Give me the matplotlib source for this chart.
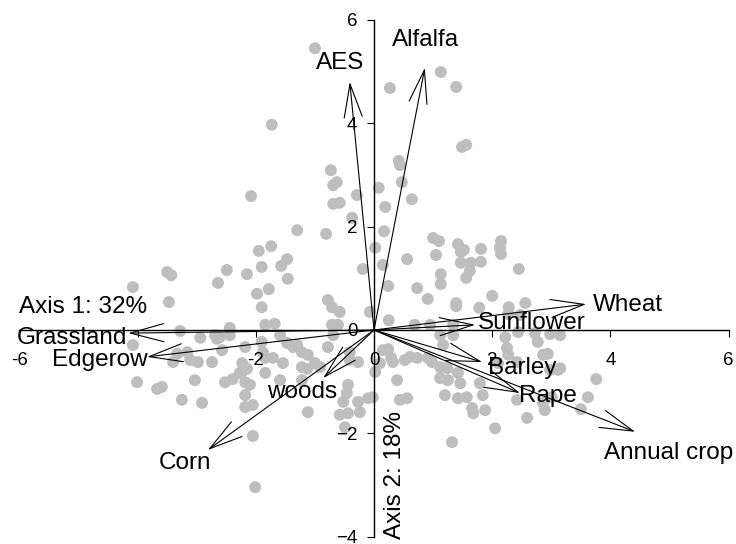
import matplotlib
matplotlib.use('Agg')
from matplotlib import pyplot as plt
import numpy as np

plt.rcParams['font.family'] = ['Liberation Sans', 'DejaVu Sans']

# site scores on the first two axes
site_x = [-1.00, -1.73, -0.73, -0.63, -0.69, -0.29, -2.08, -0.69, -0.58, -0.37,
          -1.30, -0.81, -1.74, -1.95, -1.47, -1.57, -1.90, -2.49, -2.15, -3.50,
          -3.43, -0.19, 0.27, 1.13, 1.39, 1.56, 1.49, 0.42, 0.44, 0.47,
          0.08, 0.64, 0.19, 0.17, 1.00, 1.10, 1.42, 2.15, 1.81, 1.05,
          1.47, 2.13, 2.15, 0.56, 0.02, 1.81, 1.47, 1.64, 2.45, 0.15,
          1.52, 1.13, 1.62, 1.56, 1.13, 0.24, 0.73, 0.91, 2.00, 1.39,
          1.39, 1.78, 2.28, 2.56, 0.25, 2.47, 2.27, 3.76, 3.62, 3.50,
          2.94, 2.98, 3.11, 2.98, 3.15, 2.44, 2.72, 2.22, -2.64, -4.08,
          -1.46, -1.78, -1.98, -1.90, -3.47, -0.78, -0.71, -0.58, -0.07, -1.84,
          -1.68, -0.71, -0.61, -2.44, -3.28, -2.61, -2.44, -1.90, -1.47, -1.30,
          -1.22, -0.78, -4.08, -3.40, -3.11, -2.98, -2.74, -2.57, -2.23, -1.84,
          -1.71, -1.54, -1.22, -1.00, -1.84, -2.27, -2.18, -2.10, -2.52, -3.03,
          -4.01, -3.67, -3.59, -3.25, -2.91, -2.18, -1.59, -1.22, -0.41, -0.27,
          -0.44, -0.46, -0.52, -1.12, -0.58, -0.44, -0.24, -0.10, -0.49, -2.05,
          -2.01, -3.33, -3.16, -2.39, -2.23, -2.15, -2.66, -2.18, -1.88, -1.59,
          -1.37, -1.12, -0.69, -0.41, -1.13, -0.91, -0.27, -2.05, -2.18, -2.94,
          -2.69, 0.15, 0.10, 0.32, 0.52, 0.61, 0.73, 0.39, -0.02, 0.44,
          0.56, 0.91, 0.98, 1.12, 1.24, 1.12, 1.25, 1.42, 1.46, 1.20,
          1.42, 1.57, 1.79, 1.66, 1.68, 1.88, 1.84, 2.05, 1.32, 2.59,
          2.89, 2.86, 3.01, 2.42, 2.25, 2.27, 2.10, 2.42, 2.86, 3.15,
          2.77, 1.34, 1.12, 1.17, 0.69, 0.95, 1.34, 0.24, 0.29, 0.02]
site_y = [5.45, 3.97, 3.09, 2.86, 2.80, 2.61, 2.59, 2.44, 2.46, 2.17,
          1.93, 1.86, 1.62, 1.53, 1.37, 1.24, 1.22, 1.16, 1.08, 1.12,
          1.06, 1.18, 4.68, 4.99, 4.70, 3.58, 3.54, 3.27, 3.19, 2.86,
          2.75, 2.53, 2.38, 1.91, 1.78, 1.72, 1.66, 1.72, 1.57, 1.45,
          1.51, 1.59, 1.47, 1.37, 1.59, 1.32, 1.30, 1.30, 1.18, 1.26,
          1.55, 1.08, 1.14, 1.01, 0.89, 0.85, 0.81, 0.60, 0.66, 0.52,
          0.46, 0.43, 0.44, 0.52, 0.19, 0.29, 0.31, -0.95, -1.30, -1.53,
          -0.46, -0.77, -0.77, -0.08, -0.10, -0.04, -0.06, -0.14, 0.91, 0.83,
          0.99, 0.79, 0.70, 0.44, 0.54, 0.58, 0.44, 0.35, 0.35, 0.10,
          0.12, 0.10, 0.10, 0.04, -0.02, -0.14, -0.10, -0.23, -0.25, -0.29,
          -0.43, -0.33, -0.29, -0.62, -0.58, -0.62, -0.62, -0.39, -0.64, -0.54,
          -0.54, -0.64, -0.72, -0.64, -0.83, -0.83, -1.01, -1.06, -1.01, -0.97,
          -1.01, -1.14, -1.10, -1.35, -1.41, -1.49, -0.97, -0.97, -0.58, -0.62,
          -1.06, -1.22, -1.39, -1.59, -1.64, -1.61, -1.59, -1.32, -1.88, -2.05,
          -3.04, -0.46, -0.43, -0.95, -0.81, -0.75, -0.17, -0.33, -0.43, -0.10,
          -0.33, -0.48, -0.10, -0.43, -0.75, -0.72, -1.39, -1.45, -1.26, -0.15,
          -0.10, -0.39, -0.64, -0.62, -0.58, -0.52, -0.54, -0.97, -1.30, -1.35,
          -1.32, -0.54, -0.62, -0.72, -0.74, -0.93, -0.97, -0.83, -1.03, -1.26,
          -1.32, -1.30, -1.03, -1.51, -1.61, -1.55, -1.26, -1.90, -2.17, -1.70,
          -1.55, -1.41, -1.30, -1.35, -0.35, -0.48, -0.64, -0.62, -0.48, -0.74,
          -0.23, -0.10, -0.10, -0.29, 0.10, 0.10, 0.10, -0.37, -0.54, -0.81]

# variable vectors
var_names = ['AES', 'Alfalfa', 'Wheat', 'Sunflower', 'Barley', 'Rape',
             'Annual crop', 'Corn', 'woods', 'Grassland', 'Edgerow']
var_x = [-0.41, 0.86, 3.59, 1.71, 1.83, 2.47, 4.42, -2.81, -0.86, -4.16, -3.84]
var_y = [4.80, 5.07, 0.50, 0.10, -0.62, -1.22, -1.97, -2.32, -0.93, -0.06, -0.52]

# where each name is written
label_pos = {'AES': (-0.58, 5.16), 'Alfalfa': (0.88, 5.61), 'Wheat': (4.30, 0.48),
             'Sunflower': (2.67, 0.14), 'Barley': (2.50, -0.73), 'Rape': (2.95, -1.28),
             'Annual crop': (4.98, -2.38), 'Corn': (-3.20, -2.57), 'woods': (-1.22, -1.20),
             'Grassland': (-5.11, -0.15), 'Edgerow': (-4.64, -0.58)}

xticks = [-6, -4, -2, 0, 2, 4, 6]
xticklabels = ['-6', '', '-2', '0', '2', '4', '6']
yticks = [-4, -2, 0, 2, 4, 6]

fig = plt.figure(figsize=(7.36, 5.44), dpi=100)
ax = fig.add_axes([0, 0, 1, 1])

ax.scatter(site_x, site_y, s=74, color='#bebebe', edgecolors='none', zorder=1)

for name, vx, vy in zip(var_names, var_x, var_y):
    ax.annotate('', xy=(vx, vy), xytext=(0, 0),
                arrowprops=dict(arrowstyle='->,head_length=2.4,head_width=0.65',
                                mutation_scale=10, shrinkA=0, shrinkB=0,
                                lw=0.8, color='black'), zorder=3)
    tx, ty = label_pos[name]
    ax.text(tx, ty, name, fontsize=17.5, ha='center', va='center', zorder=4)

ax.set_xlim(-374 / 59.1, 362 / 59.1)
ax.set_ylim(-214 / 51.7, 330 / 51.7)

for side in ['top', 'right']:
    ax.spines[side].set_visible(False)
ax.spines['left'].set_position(('data', 0))
ax.spines['bottom'].set_position(('data', 0))
ax.spines['left'].set_bounds(-4, 6)
ax.spines['bottom'].set_bounds(-6, 6)
ax.spines['left'].set_linewidth(1.0)
ax.spines['bottom'].set_linewidth(1.0)
ax.patch.set_visible(False)

ax.set_xticks(xticks)
ax.set_xticklabels(xticklabels)
ax.set_yticks(yticks)
ax.tick_params(axis='x', direction='out', length=5, pad=11, labelsize=13.5)
ax.tick_params(axis='y', direction='out', length=5, pad=7, labelsize=13.5)

ax.text(-4.92, 0.45, 'Axis 1: 32%', fontsize=17.5, ha='center', va='center')
ax.text(0.36, -2.80, 'Axis 2: 18%', fontsize=17.5, ha='center', va='center',
        rotation=90)

fig.savefig('out.png', dpi=100)
